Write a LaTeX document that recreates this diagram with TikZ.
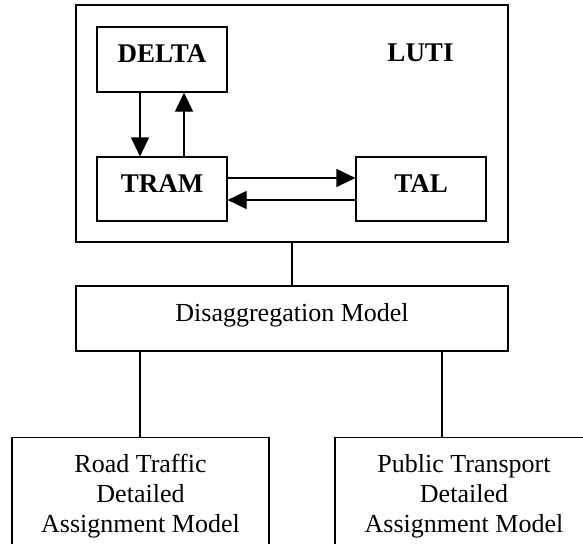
\documentclass[tikz,border=0pt]{standalone}
\usepackage{fontspec}
\setmainfont{Liberation Serif}
\usetikzlibrary{arrows.meta}

\tikzset{
  modelbox/.style={draw, line width=1.2pt, inner sep=0pt},
  bigfont/.style={font=\fontsize{26}{30}\selectfont},
  boldfont/.style={font=\fontsize{27}{30}\selectfont\bfseries},
  flow/.style={line width=1.2pt, -{Triangle[length=19pt,width=18pt]}},
  link/.style={line width=1.2pt}
}

\begin{document}
\begin{tikzpicture}[x=1pt, y=-1pt]
  \useasboundingbox (0,0) rectangle (583,543);
  \clip (0,0) rectangle (583,543);

  % land use / transport interaction block
  \node[modelbox, minimum width=432pt, minimum height=237pt] (luti) at (292,123.5) {};
  \node[boldfont] (lutilabel) at (420.5,52.5) {LUTI};

  \node[modelbox, boldfont, minimum width=130pt, minimum height=65pt,
        text height=18pt, text depth=12pt] (delta) at (162,59.5) {DELTA};
  \node[modelbox, boldfont, minimum width=130pt, minimum height=64pt,
        text height=18pt, text depth=12pt] (tram) at (162,189) {TRAM};
  \node[modelbox, boldfont, minimum width=130pt, minimum height=64pt,
        text height=18pt, text depth=12pt] (tal) at (421,189) {TAL};

  \draw[flow] ([xshift=-22pt]delta.south) -- ([xshift=-22pt]tram.north);
  \draw[flow] ([xshift=22pt]tram.north) -- ([xshift=22pt]delta.south);
  \draw[flow] ([yshift=11pt]tram.east) -- ([yshift=11pt]tal.west);
  \draw[flow] ([yshift=-11pt]tal.west) -- ([yshift=-11pt]tram.east);

  % disaggregation and assignment models
  \node[modelbox, bigfont, minimum width=432pt, minimum height=65pt,
        text height=18pt, text depth=12pt] (disagg) at (292,318.5) {Disaggregation Model};

  \node[modelbox, bigfont, align=center, anchor=north, minimum width=257pt,
        inner ysep=17pt] (road) at (140.5,437)
        {Road Traffic\\Detailed\\Assignment Model};
  \node[modelbox, bigfont, align=center, anchor=north, minimum width=258pt,
        inner ysep=17pt] (pt) at (464,437)
        {Public Transport\\Detailed\\Assignment Model};

  \draw[link] (luti.south) -- (disagg.north);
  \draw[link] ([xshift=-152pt]disagg.south) -- ([xshift=-152pt]disagg.south |- road.north);
  \draw[link] ([xshift=150pt]disagg.south) -- ([xshift=150pt]disagg.south |- pt.north);
\end{tikzpicture}
\end{document}
